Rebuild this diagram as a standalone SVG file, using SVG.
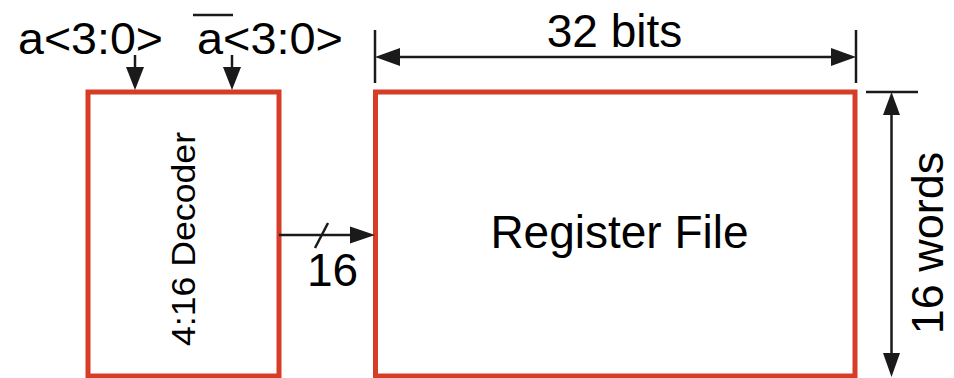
<svg xmlns="http://www.w3.org/2000/svg" width="954" height="378" viewBox="0 0 954 378">
<style>
.box{fill:#fff;stroke:#d63c26;stroke-width:5}
.ln{stroke:#1a1a1a;stroke-width:2.5;fill:none}
.hd{fill:#1a1a1a}
.t{font-family:"Liberation Sans",Arial,sans-serif;fill:#000}
</style>
<rect width="954" height="378" fill="#fff"/>
<g id="decoder">
<rect class="box" x="88" y="92" width="191" height="284"/>
<text class="t" font-size="34" text-anchor="middle" transform="translate(195,239) rotate(-90)" textLength="214" lengthAdjust="spacingAndGlyphs">4:16 Decoder</text>
</g>
<g id="regfile">
<rect class="box" x="375.5" y="92" width="479.5" height="284"/>
<text class="t" font-size="46" x="619.5" y="248" text-anchor="middle">Register File</text>
</g>
<g id="labels">
<text class="t" font-size="45" x="18" y="54" textLength="145" lengthAdjust="spacingAndGlyphs">a&lt;3:0&gt;</text>
<text class="t" font-size="45" x="197" y="54" textLength="146" lengthAdjust="spacingAndGlyphs">a&lt;3:0&gt;</text>
<line class="ln" x1="193" y1="15" x2="233" y2="15"/>
<text class="t" font-size="46" x="614.5" y="47" text-anchor="middle">32 bits</text>
<text class="t" font-size="46" x="332.5" y="286" text-anchor="middle">16</text>
<text class="t" font-size="45" text-anchor="middle" transform="translate(943,243) rotate(-90)">16 words</text>
</g>
<g id="connectors">
<line class="ln" x1="135" y1="55" x2="135" y2="70"/>
<polygon class="hd" points="126,67 144,67 135,90"/>
<line class="ln" x1="232" y1="55" x2="232" y2="70"/>
<polygon class="hd" points="223,67 241,67 232,90"/>
<line class="ln" x1="279" y1="235" x2="352" y2="235"/>
<polygon class="hd" points="350,226.5 375,235 350,243.5"/>
<line class="ln" x1="315" y1="248" x2="328" y2="223"/>
<line class="ln" x1="375" y1="30" x2="375" y2="83"/>
<line class="ln" x1="856" y1="30" x2="856" y2="83"/>
<line class="ln" x1="395" y1="57" x2="836" y2="57"/>
<polygon class="hd" points="375,57 400,48 400,66"/>
<polygon class="hd" points="856,57 831,48 831,66"/>
<line class="ln" x1="866" y1="92" x2="918" y2="92"/>
<line class="ln" x1="891.5" y1="110" x2="891.5" y2="358"/>
<polygon class="hd" points="891.5,92 883,115 900,115"/>
<polygon class="hd" points="891.5,377 883,353 900,353"/>
</g>
</svg>
